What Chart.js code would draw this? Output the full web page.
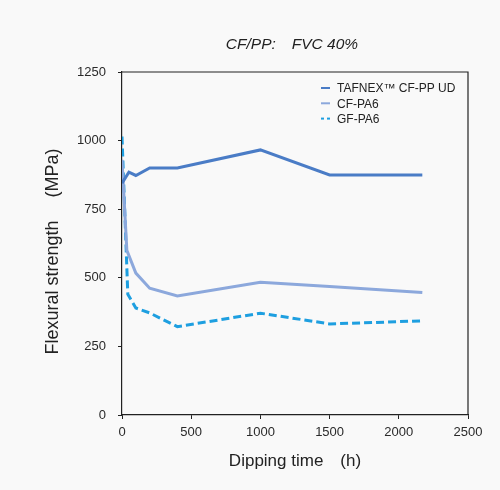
<!DOCTYPE html>
<html>
<head>
<meta charset="utf-8">
<script src="https://cdn.jsdelivr.net/npm/chart.js@4"></script>
<style>
html,body{margin:0;padding:0;background:#f9f9f9;}
canvas{display:block;}
</style>
</head>
<body>
<canvas id="c" width="500" height="490"></canvas>
<script>
const chartTitle = "CF/PP:\u3000FVC 40%";
const xTitle = "Dipping time\u3000(h)";
const yTitle = "Flexural strength\u3000 (MPa)";
const seriesNames = ["TAFNEX\u2122 CF-PP UD", "CF-PA6", "GF-PA6"];

const timesTafnex = [0, 50, 100, 200, 400, 1000, 1500, 2170];
const tafnex      = [845, 885, 873, 900, 900, 966, 875, 875];
const timesCF     = [0, 35, 100, 200, 400, 1000, 1500, 2170];
const cfpa6       = [930, 600, 517, 462, 434, 484, 468, 446];
const timesGF     = [0, 42, 100, 200, 400, 1000, 1500, 2170];
const gfpa6       = [1015, 440, 390, 372, 322, 371, 332, 343];

const xTicks = [0, 500, 1000, 1500, 2000, 2500];
const yTicks = [0, 250, 500, 750, 1000, 1250];

const colors = ["#4a7cc6", "#8ca8dc", "#1e9fe0"];
const dashes = [[], [], [8, 4]];

function pts(xs, ys){ return xs.map((x,i)=>({x:x, y:ys[i]})); }

const FONT = "Liberation Sans, Arial, Helvetica, sans-serif";

const overlay = {
  id: 'overlay',
  afterDraw(chart){
    const ctx = chart.ctx, a = chart.chartArea;
    ctx.save();
    // top & right frame
    ctx.strokeStyle = '#222'; ctx.lineWidth = 1.2;
    ctx.beginPath();
    ctx.moveTo(a.left, a.top); ctx.lineTo(a.right, a.top); ctx.lineTo(a.right, a.bottom);
    ctx.stroke();
    // title
    ctx.fillStyle = '#222';
    ctx.font = "italic 15.5px " + FONT;
    ctx.textAlign = 'center'; ctx.textBaseline = 'middle';
    ctx.fillText(chartTitle, (a.left + a.right)/2 - 3, 45);
    // x title
    ctx.font = "17px " + FONT;
    ctx.fillText(xTitle, (a.left + a.right)/2, 461);
    // y title
    ctx.save();
    ctx.font = "18px " + FONT;
    ctx.translate(53, (a.top + a.bottom)/2 + 8);
    ctx.rotate(-Math.PI/2);
    ctx.fillText(yTitle, 0, 0);
    ctx.restore();
    // legend
    ctx.font = "12px " + FONT;
    ctx.textAlign = 'left';
    chart.data.datasets.forEach((ds, i) => {
      const y = a.top + 16 + i * 15.3;
      const x0 = a.left + 199;
      ctx.strokeStyle = ds.borderColor; ctx.lineWidth = 2;
      ctx.setLineDash(i === 2 ? [3, 3] : []);
      ctx.beginPath(); ctx.moveTo(x0, y); ctx.lineTo(x0 + 9, y); ctx.stroke();
      ctx.setLineDash([]);
      ctx.fillStyle = '#222';
      ctx.fillText(ds.label, x0 + 16, y + 1);
    });
    ctx.restore();
  }
};

new Chart(document.getElementById('c'), {
  type: 'line',
  data: {
    datasets: [
      {label: seriesNames[0], data: pts(timesTafnex, tafnex)},
      {label: seriesNames[1], data: pts(timesCF, cfpa6)},
      {label: seriesNames[2], data: pts(timesGF, gfpa6)}
    ].map((d,i)=>Object.assign(d, {
      borderColor: colors[i], backgroundColor: colors[i], borderWidth: 3,
      borderDash: dashes[i], pointRadius: 0, tension: 0, fill: false
    }))
  },
  options: {
    responsive: false,
    animation: false,
    layout: {padding: {top: 72, right: 32, left: 0, bottom: 0}},
    plugins: {legend: {display: false}, title: {display: false}, tooltip: {enabled: false}},
    scales: {
      x: {
        type: 'linear', min: 0, max: 2500,
        afterBuildTicks: s => { s.ticks = xTicks.map(v => ({value: v})); },
        afterFit: s => { s.height = 75; },
        grid: {drawOnChartArea: false, drawTicks: true, tickLength: 4, tickColor: '#222'},
        border: {display: true, color: '#222', width: 1.2},
        ticks: {color: '#2a2a2a', font: {size: 13, family: FONT}, padding: 6, maxRotation: 0,
                callback: v => String(v)}
      },
      y: {
        type: 'linear', min: 0, max: 1250,
        afterBuildTicks: s => { s.ticks = yTicks.map(v => ({value: v})); },
        afterFit: s => { s.width = 122; },
        grid: {drawOnChartArea: false, drawTicks: true, tickLength: 4, tickColor: '#222'},
        border: {display: true, color: '#222', width: 1.2},
        ticks: {color: '#2a2a2a', font: {size: 13, family: FONT}, padding: 12,
                callback: v => String(v)}
      }
    }
  },
  plugins: [overlay]
});
</script>
</body>
</html>
